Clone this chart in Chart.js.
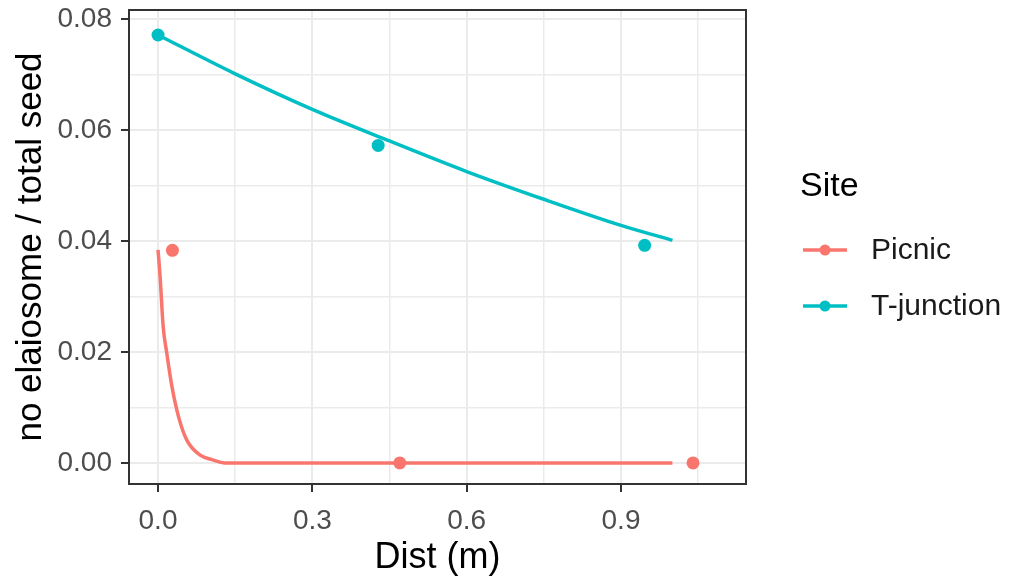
<!DOCTYPE html>
<html lang="en">
<head>
  <meta charset="UTF-8">
  <title>Seed without elaiosome by distance</title>
  <script src="https://cdn.jsdelivr.net/npm/chart.js"></script>
  <style>
    body { margin: 0; background: #fff; }
    #wrap { width: 1013px; height: 583px; position: relative; }
  </style>
</head>
<body>
  <div id="wrap"><canvas id="chart"></canvas></div>

  <script>
    // Site names and colours
    var sites = ['Picnic', 'T-junction'];
    var siteColors = ['#F8766D', '#00BFC4'];

    // Fitted curves
    var picnicFitX = [0, 0.004, 0.010, 0.017, 0.027, 0.040, 0.056, 0.082, 0.105, 0.130, 1.0];
    var picnicFitY = [0.0384, 0.0336, 0.0246, 0.0198, 0.0138, 0.0083, 0.0041, 0.0014, 0.0006, 0.0, 0.0];
    var tjunctionFitX = [0, 0.15, 0.30, 0.45, 0.60, 0.75, 0.90, 1.0];
    var tjunctionFitY = [0.0771, 0.0701, 0.0637, 0.0580, 0.0525, 0.0475, 0.0428, 0.0401];

    // Observed points
    var picnicObsX = [0.028, 0.47, 1.04];
    var picnicObsY = [0.0383, 0, 0];
    var tjunctionObsX = [0.0, 0.428, 0.946];
    var tjunctionObsY = [0.0771, 0.0572, 0.0392];

    // Axis ticks
    var xMajor = [0, 0.3, 0.6, 0.9];
    var xMinor = [0.15, 0.45, 0.75, 1.05];
    var yMajor = [0, 0.02, 0.04, 0.06, 0.08];
    var yMinor = [0.01, 0.03, 0.05, 0.07];

    function pts(xs, ys) {
      return xs.map(function(x, i) { return { x: x, y: ys[i] }; });
    }
    function isMajor(list, v) {
      return list.some(function(m) { return Math.abs(m - v) < 1e-9; });
    }

    var FONT = "'Liberation Sans', Arial, sans-serif";

    // panel border + legend drawn by hand, ggplot style
    var ggExtras = {
      id: 'ggExtras',
      afterDraw: function(chart) {
        var c = chart.ctx, a = chart.chartArea;
        c.save();
        c.strokeStyle = '#333333';
        c.lineWidth = 2;
        c.strokeRect(a.left, a.top, a.right - a.left, a.bottom - a.top);

        c.fillStyle = '#000';
        c.font = '34px ' + FONT;
        c.textBaseline = 'middle';
        c.fillText('Site', 800, 187);

        var rows = [250, 306];
        c.font = '30px ' + FONT;
        sites.forEach(function(name, i) {
          var y = rows[i];
          c.strokeStyle = siteColors[i];
          c.lineWidth = 3.5;
          c.beginPath();
          c.moveTo(803, y);
          c.lineTo(847, y);
          c.stroke();
          c.fillStyle = siteColors[i];
          c.beginPath();
          c.arc(825, y, 5.5, 0, Math.PI * 2);
          c.fill();
          c.fillStyle = '#1a1a1a';
          c.fillText(name, 871, y + 1);
        });
        c.restore();
      }
    };

    new Chart(document.getElementById('chart'), {
      type: 'scatter',
      data: {
        datasets: [
          {
            label: 'Picnic fit',
            data: pts(picnicFitX, picnicFitY),
            showLine: true,
            borderColor: siteColors[0],
            borderWidth: 3.5,
            pointRadius: 0,
            cubicInterpolationMode: 'monotone'
          },
          {
            label: 'T-junction fit',
            data: pts(tjunctionFitX, tjunctionFitY),
            showLine: true,
            borderColor: siteColors[1],
            borderWidth: 3.5,
            pointRadius: 0,
            cubicInterpolationMode: 'monotone'
          },
          {
            label: 'Picnic',
            data: pts(picnicObsX, picnicObsY),
            backgroundColor: siteColors[0],
            borderWidth: 0,
            pointRadius: 6.5
          },
          {
            label: 'T-junction',
            data: pts(tjunctionObsX, tjunctionObsY),
            backgroundColor: siteColors[1],
            borderWidth: 0,
            pointRadius: 6.5
          }
        ]
      },
      options: {
        responsive: true,
        maintainAspectRatio: false,
        animation: false,
        layout: { padding: { top: 10, right: 267, left: 0, bottom: 0 } },
        plugins: { legend: { display: false }, tooltip: { enabled: false } },
        scales: {
          x: {
            type: 'linear',
            min: -0.0564,
            max: 1.143,
            afterBuildTicks: function(scale) {
              scale.ticks = xMajor.concat(xMinor).map(function(v) { return { value: v }; });
            },
            afterFit: function(scale) {
              scale.height = 99;
              scale.paddingLeft = 0;
              scale.paddingRight = 0;
            },
            border: { display: false },
            grid: {
              color: '#EBEBEB',
              lineWidth: function(ctx) { return isMajor(xMajor, ctx.tick.value) ? 2 : 1.5; },
              tickLength: 8,
              tickWidth: 2,
              tickColor: function(ctx) { return isMajor(xMajor, ctx.tick.value) ? '#333333' : 'rgba(0,0,0,0)'; }
            },
            ticks: {
              autoSkip: false,
              maxRotation: 0,
              padding: 12,
              color: '#4D4D4D',
              font: { family: FONT, size: 28 },
              callback: function(v) { return isMajor(xMajor, v) ? v.toFixed(1) : ''; }
            },
            title: {
              display: true,
              text: 'Dist (m)',
              color: '#000',
              font: { family: FONT, size: 36 },
              padding: { top: 0, bottom: 3 }
            }
          },
          y: {
            type: 'linear',
            min: -0.0038,
            max: 0.0816,
            afterBuildTicks: function(scale) {
              scale.ticks = yMajor.concat(yMinor).map(function(v) { return { value: v }; });
            },
            afterFit: function(scale) {
              scale.width = 129;
              scale.paddingTop = 0;
              scale.paddingBottom = 0;
            },
            border: { display: false },
            grid: {
              color: '#EBEBEB',
              lineWidth: function(ctx) { return isMajor(yMajor, ctx.tick.value) ? 2 : 1.5; },
              tickLength: 8,
              tickWidth: 2,
              tickColor: function(ctx) { return isMajor(yMajor, ctx.tick.value) ? '#333333' : 'rgba(0,0,0,0)'; }
            },
            ticks: {
              autoSkip: false,
              padding: 9,
              color: '#4D4D4D',
              font: { family: FONT, size: 28 },
              callback: function(v) { return isMajor(yMajor, v) ? v.toFixed(2) : ''; }
            },
            title: {
              display: true,
              text: 'no elaiosome / total seed',
              color: '#000',
              font: { family: FONT, size: 35 },
              padding: { top: 10, bottom: 0 }
            }
          }
        }
      },
      plugins: [ggExtras]
    });
  </script>
</body>
</html>
